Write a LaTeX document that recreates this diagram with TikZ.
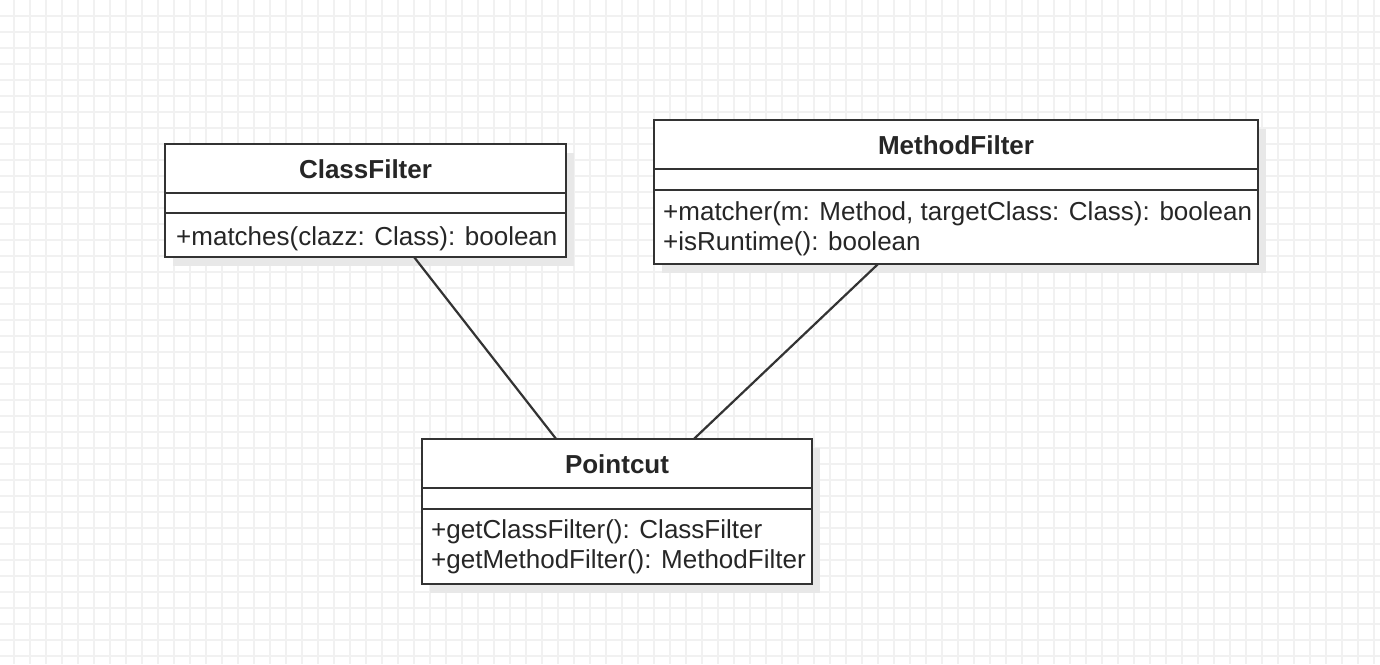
\documentclass[tikz,border=0pt]{standalone}
\usepackage{fontspec}
\setmainfont{Liberation Sans}
\usetikzlibrary{calc}
\definecolor{gridc}{HTML}{F1F1F1}
\definecolor{linec}{HTML}{333333}
\definecolor{shadowc}{HTML}{E8E8E8}
\tikzset{
  classbox/.style={draw=linec, line width=2.6pt, fill=white, rectangle, anchor=north west, inner sep=0pt, outer sep=0pt},
  shadowbox/.style={fill=shadowc, draw=none, rectangle, anchor=north west, inner sep=0pt, outer sep=0pt},
  divider/.style={draw=linec, line width=2.6pt},
  title/.style={font=\fontsize{26}{30}\selectfont\bfseries, text=black!85, anchor=base, inner sep=0pt},
  member/.style={font=\fontsize{26}{30}\selectfont, text=black!85, anchor=base west, inner sep=0pt},
  assoc/.style={draw=linec, line width=2.2pt},
}
\begin{document}
\begin{tikzpicture}[x=1pt,y=-1pt]
\useasboundingbox (0,0) rectangle (1380,664);
\fill[white] (0,0) rectangle (1380,664);
\foreach \i in {0,...,86} {\draw[gridc, line width=2pt] ({14+16*\i},0) -- ({14+16*\i},664);}
\foreach \j in {1,...,41} {\draw[gridc, line width=2pt] (0,{16*\j}) -- (1380,{16*\j});}

% shadows
\node[shadowbox, minimum width=401pt, minimum height=113pt] (cfs) at (173,153) {};
\node[shadowbox, minimum width=604pt, minimum height=144pt] (mfs) at (662,129) {};
\node[shadowbox, minimum width=390pt, minimum height=145pt] (pcs) at (430,448) {};

% ClassFilter
\node[classbox, minimum width=401pt, minimum height=113pt] (cf) at (165,144) {};
\draw[divider] ($(cf.north west)+(0,49)$) -- ($(cf.north east)+(0,49)$);
\draw[divider] ($(cf.north west)+(0,69)$) -- ($(cf.north east)+(0,69)$);
\node[title] (cft) at ($(cf.north)+(0,34)$) {ClassFilter};
\node[member] (cfm1) at ($(cf.north west)+(11,101)$) {+matches(clazz: Class): boolean};

% MethodFilter
\node[classbox, minimum width=604pt, minimum height=144pt] (mf) at (654,120) {};
\draw[divider] ($(mf.north west)+(0,49)$) -- ($(mf.north east)+(0,49)$);
\draw[divider] ($(mf.north west)+(0,70)$) -- ($(mf.north east)+(0,70)$);
\node[title] (mft) at ($(mf.north)+(0,34)$) {MethodFilter};
\node[member] (mfm1) at ($(mf.north west)+(9,100)$) {+matcher(m: Method, targetClass: Class): boolean};
\node[member] (mfm2) at ($(mf.north west)+(9,130)$) {+isRuntime(): boolean};

% Pointcut
\node[classbox, minimum width=390pt, minimum height=145pt] (pc) at (422,439) {};
\draw[divider] ($(pc.north west)+(0,49)$) -- ($(pc.north east)+(0,49)$);
\draw[divider] ($(pc.north west)+(0,70)$) -- ($(pc.north east)+(0,70)$);
\node[title] (pct) at ($(pc.north)+(0,34)$) {Pointcut};
\node[member] (pcm1) at ($(pc.north west)+(9,99)$) {+getClassFilter(): ClassFilter};
\node[member] (pcm2) at ($(pc.north west)+(9,129)$) {+getMethodFilter(): MethodFilter};

% associations
\draw[assoc] ($(cf.south west)!0.621!(cf.south east)$) -- ($(pc.north west)!0.344!(pc.north east)$);
\draw[assoc] ($(mf.south west)!0.371!(mf.south east)$) -- ($(pc.north west)!0.697!(pc.north east)$);
\end{tikzpicture}
\end{document}
